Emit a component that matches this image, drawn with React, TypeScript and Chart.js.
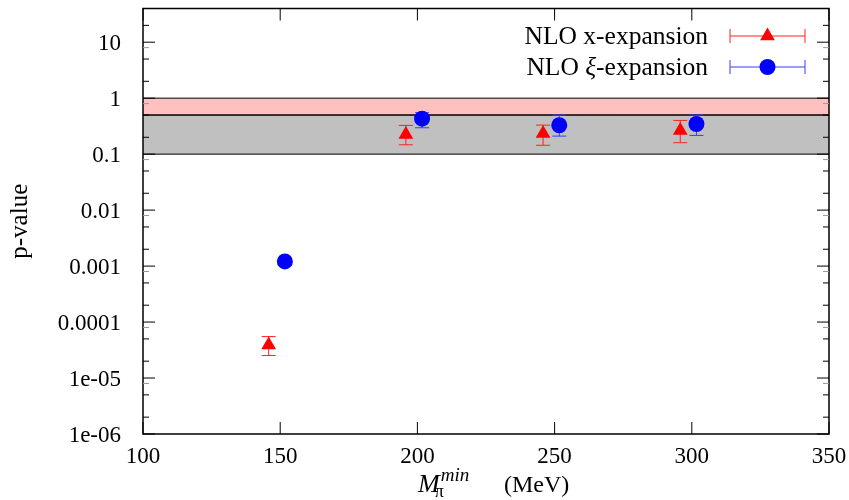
import { useEffect, useRef } from 'react';
import { Chart, registerables } from 'chart.js';

Chart.register(...registerables);

// ---- data ----
const seriesLabels = ['NLO x-expansion', 'NLO ξ-expansion'];
const xExpX = [145.8, 195.8, 245.8, 295.8];
const xExpP = [3.9e-5, 0.225, 0.234, 0.264];
const xExpLo = [2.53e-5, 0.147, 0.144, 0.16];
const xExpHi = [5.5e-5, 0.326, 0.33, 0.4];
const xiExpX = [151.7, 201.7, 251.7, 301.7];
const xiExpP = [1.21e-3, 0.43, 0.328, 0.346];
const xiExpLo = [1.1e-3, 0.296, 0.21, 0.216];
const xiExpHi = [1.3e-3, 0.55, 0.5, 0.5];
const bandLow = [0.5, 0.1];
const bandHigh = [1, 0.5];
const xTicks = [100, 150, 200, 250, 300, 350];
const xTickLabels = ['100', '150', '200', '250', '300', '350'];
const yTicks = [1e-6, 1e-5, 1e-4, 1e-3, 1e-2, 1e-1, 1, 10];
const yTickLabels = ['1e-06', '1e-05', '0.0001', '0.001', '0.01', '0.1', '1', '10'];
const yMinorMult = [2, 5, 8];
const xMin = 100;
const xMax = 350;
const yMin = 1e-6;
const yMax = 40;

const SERIF = '"Liberation Serif", "DejaVu Serif", serif';
const errors = [
  { lo: xExpLo, hi: xExpHi },
  { lo: xiExpLo, hi: xiExpHi },
];
const seriesColors = ['#ff0000', '#0000ff'];
const errColors = ['#ff2020', '#3a3aff'];
const bandColors = ['#ffc0c0', '#c0c0c0'];

function drawTri(ctx: CanvasRenderingContext2D, x: number, y: number, r: number) {
  ctx.beginPath();
  ctx.moveTo(x, y - r);
  ctx.lineTo(x + r * 0.866, y + r * 0.5);
  ctx.lineTo(x - r * 0.866, y + r * 0.5);
  ctx.closePath();
  ctx.fill();
}

const gpPlugin = {
  id: 'gp',
  beforeDatasetsDraw(chart: any) {
    const { ctx, chartArea: a, scales } = chart;
    const x = scales.x;
    const y = scales.y;
    ctx.save();
    for (let i = 0; i < bandLow.length; i++) {
      const t = y.getPixelForValue(bandHigh[i]);
      const b = y.getPixelForValue(bandLow[i]);
      ctx.fillStyle = bandColors[i];
      ctx.fillRect(a.left, t, a.right - a.left, b - t);
    }
    ctx.strokeStyle = '#000';
    ctx.lineWidth = 1;
    for (let i = 0; i < bandLow.length; i++) {
      const t = y.getPixelForValue(bandHigh[i]);
      const b = y.getPixelForValue(bandLow[i]);
      ctx.beginPath();
      ctx.moveTo(a.left, t);
      ctx.lineTo(a.right, t);
      ctx.moveTo(a.left, b);
      ctx.lineTo(a.right, b);
      ctx.stroke();
    }
    // error bars
    chart.data.datasets.forEach((ds: any, di: number) => {
      ctx.strokeStyle = errColors[di];
      ctx.lineWidth = 1;
      ds.data.forEach((pt: any, i: number) => {
        const px = x.getPixelForValue(pt.x);
        const lo = y.getPixelForValue(errors[di].lo[i]);
        const hi = y.getPixelForValue(errors[di].hi[i]);
        ctx.beginPath();
        ctx.moveTo(px, lo);
        ctx.lineTo(px, hi);
        ctx.moveTo(px - 7, lo);
        ctx.lineTo(px + 7, lo);
        ctx.moveTo(px - 7, hi);
        ctx.lineTo(px + 7, hi);
        ctx.stroke();
      });
    });
    ctx.restore();
  },
  afterDraw(chart: any) {
    const { ctx, chartArea: a, scales } = chart;
    const x = scales.x;
    const y = scales.y;
    ctx.save();
    // frame
    ctx.strokeStyle = '#000';
    ctx.lineWidth = 1.5;
    ctx.strokeRect(a.left, a.top, a.right - a.left, a.bottom - a.top);
    ctx.lineWidth = 1;
    // x ticks
    xTicks.forEach((v) => {
      const p = x.getPixelForValue(v);
      ctx.beginPath();
      ctx.moveTo(p, a.bottom);
      ctx.lineTo(p, a.bottom - 12);
      ctx.moveTo(p, a.top);
      ctx.lineTo(p, a.top + 12);
      ctx.stroke();
    });
    // y ticks
    yTicks.forEach((v) => {
      const p = y.getPixelForValue(v);
      ctx.strokeStyle = '#000';
      ctx.beginPath();
      ctx.moveTo(a.left, p);
      ctx.lineTo(a.left + 12, p);
      ctx.moveTo(a.right, p);
      ctx.lineTo(a.right - 12, p);
      ctx.stroke();
      yMinorMult.forEach((m) => {
        const mv = v * m;
        if (mv > yMax) return;
        const q = y.getPixelForValue(mv);
        ctx.strokeStyle = m === 8 ? '#9a9a9a' : '#000';
        ctx.beginPath();
        ctx.moveTo(a.left, q);
        ctx.lineTo(a.left + 6, q);
        ctx.moveTo(a.right, q);
        ctx.lineTo(a.right - 6, q);
        ctx.stroke();
      });
    });
    // tick labels
    ctx.fillStyle = '#000';
    ctx.font = `23px ${SERIF}`;
    ctx.textAlign = 'center';
    ctx.textBaseline = 'alphabetic';
    xTicks.forEach((v, i) => {
      ctx.fillText(xTickLabels[i], x.getPixelForValue(v), a.bottom + 28.5);
    });
    ctx.textAlign = 'right';
    yTicks.forEach((v, i) => {
      ctx.fillText(yTickLabels[i], a.left - 22, y.getPixelForValue(v) + 7.8);
    });
    // y title
    ctx.save();
    ctx.translate(27, (a.top + a.bottom) / 2);
    ctx.rotate(-Math.PI / 2);
    ctx.textAlign = 'center';
    ctx.font = `25px ${SERIF}`;
    ctx.fillText('p-value', 0, 0);
    ctx.restore();
    // x title: M_pi^min (MeV)
    {
      const base = a.bottom + 57.5;
      const cx = (a.left + a.right) / 2;
      ctx.textAlign = 'left';
      ctx.font = `italic 26px ${SERIF}`;
      const wM = ctx.measureText('M').width;
      const sx = cx - 68;
      ctx.fillText('M', sx, base);
      ctx.font = `18px ${SERIF}`;
      ctx.fillText('π', sx + wM - 5, base + 5);
      ctx.font = `italic 19px ${SERIF}`;
      ctx.fillText('min', sx + wM + 1, base - 11);
      ctx.font = `24px ${SERIF}`;
      ctx.fillText('(MeV)', cx + 18, base);
    }
    // legend
    const rows = [36, 67];
    chart.data.datasets.forEach((ds: any, di: number) => {
      const cy = rows[di];
      const textRight = 708;
      const label: string = ds.label;
      const fs = 25.5;
      ctx.font = `${fs}px ${SERIF}`;
      ctx.textAlign = 'left';
      const idx = label.indexOf('ξ');
      if (idx >= 0) {
        const pre = label.slice(0, idx);
        const post = label.slice(idx + 1);
        ctx.font = `${fs}px ${SERIF}`;
        const w1 = ctx.measureText(pre).width;
        const w3 = ctx.measureText(post).width;
        ctx.font = `italic ${fs}px ${SERIF}`;
        const w2 = ctx.measureText('ξ').width;
        const sx = textRight - (w1 + w2 + w3);
        ctx.font = `${fs}px ${SERIF}`;
        ctx.fillText(pre, sx, cy + 7.5);
        ctx.font = `italic ${fs}px ${SERIF}`;
        ctx.fillText('ξ', sx + w1, cy + 7.5);
        ctx.font = `${fs}px ${SERIF}`;
        ctx.fillText(post, sx + w1 + w2, cy + 7.5);
      } else {
        ctx.textAlign = 'right';
        ctx.fillText(label, textRight, cy + 7.5);
      }
      const l = 730;
      const r = 805;
      ctx.strokeStyle = errColors[di];
      ctx.lineWidth = 1;
      ctx.beginPath();
      ctx.moveTo(l, cy);
      ctx.lineTo(r, cy);
      ctx.moveTo(l, cy - 7);
      ctx.lineTo(l, cy + 7);
      ctx.moveTo(r, cy - 7);
      ctx.lineTo(r, cy + 7);
      ctx.stroke();
      ctx.fillStyle = seriesColors[di];
      if (di === 0) {
        drawTri(ctx, (l + r) / 2, cy, 8.5);
      } else {
        ctx.beginPath();
        ctx.arc((l + r) / 2, cy, 8, 0, Math.PI * 2);
        ctx.fill();
      }
      ctx.fillStyle = '#000';
    });
    ctx.restore();
  },
};

export default function App() {
  const ref = useRef<HTMLCanvasElement | null>(null);
  useEffect(() => {
    document.body.style.margin = '0';
    const canvas = ref.current;
    if (!canvas) return;
    const chart = new Chart(canvas, {
      type: 'scatter',
      data: {
        datasets: [
          {
            label: seriesLabels[0],
            data: xExpX.map((v, i) => ({ x: v, y: xExpP[i] })),
            pointStyle: 'triangle',
            pointRadius: 8.5,
            pointBorderWidth: 0,
            backgroundColor: seriesColors[0],
            borderColor: seriesColors[0],
          },
          {
            label: seriesLabels[1],
            data: xiExpX.map((v, i) => ({ x: v, y: xiExpP[i] })),
            pointStyle: 'circle',
            pointRadius: 8,
            pointBorderWidth: 0,
            backgroundColor: seriesColors[1],
            borderColor: seriesColors[1],
          },
        ],
      },
      options: {
        responsive: false,
        animation: false,
        events: [],
        layout: { padding: { top: 8, right: 20, left: 0, bottom: 0 } },
        plugins: { legend: { display: false }, tooltip: { enabled: false }, title: { display: false } },
        scales: {
          x: {
            type: 'linear',
            min: xMin,
            max: xMax,
            grid: { display: false, drawTicks: false },
            border: { display: false },
            ticks: { display: false },
            afterFit: (s: any) => {
              s.height = 66;
            },
          },
          y: {
            type: 'logarithmic',
            min: yMin,
            max: yMax,
            grid: { display: false, drawTicks: false },
            border: { display: false },
            ticks: { display: false },
            afterFit: (s: any) => {
              s.width = 143;
            },
          },
        },
      },
      plugins: [gpPlugin],
    });
    return () => chart.destroy();
  }, []);
  return (
    <div style={{ width: 849, height: 500 }}>
      <canvas ref={ref} width={849} height={500} />
    </div>
  );
}
